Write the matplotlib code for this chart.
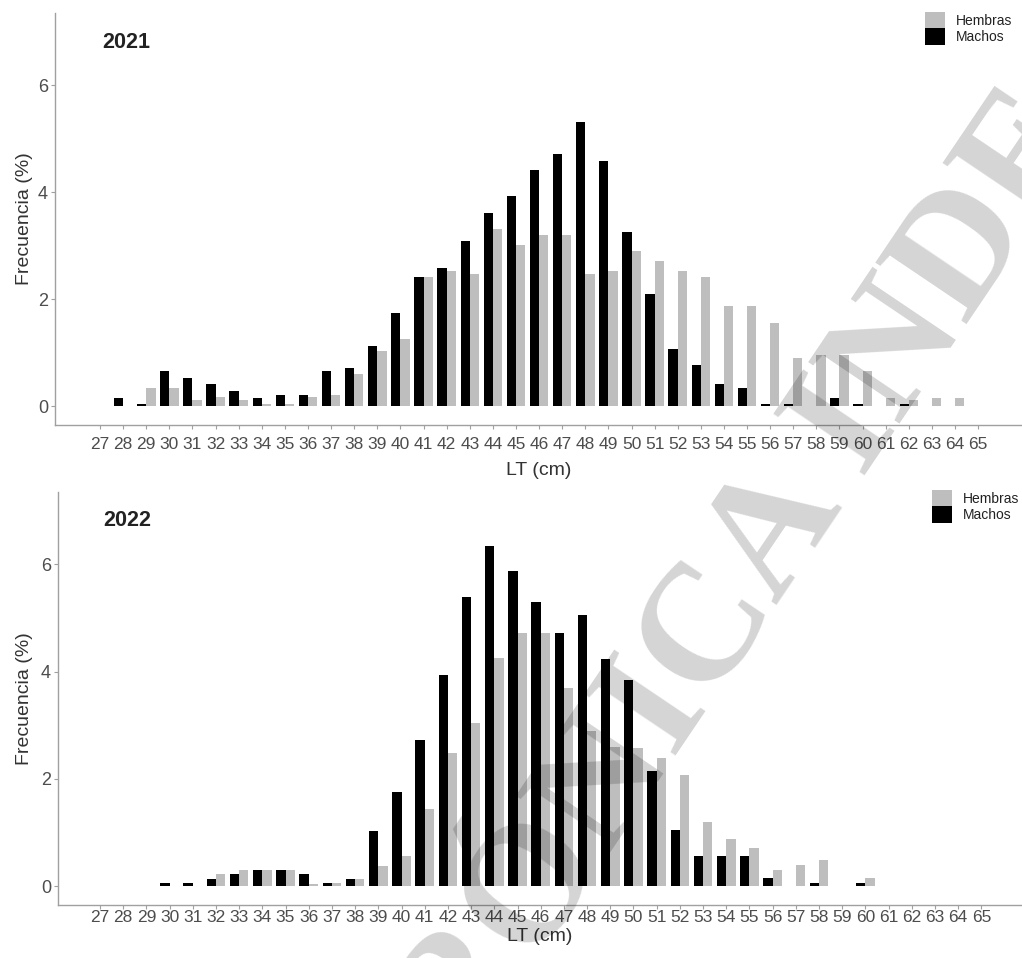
"""
Distribución de frecuencias de tallas (LT) por sexo, campañas 2021 y 2022.
Dos paneles de barras agrupadas: Hembras (gris) y Machos (negro).
"""
import matplotlib
matplotlib.use("Agg")
import matplotlib.pyplot as plt
from matplotlib.patches import Patch
import numpy as np

plt.rcParams["font.family"] = ["Liberation Sans", "DejaVu Sans"]

# clases de talla (cm)
LT = np.arange(27, 66)
TICK_LABELS = [str(v) for v in LT]

# frecuencias (%) por clase de talla, 27..65 cm
HEMBRAS_2021 = [0, 0, 0.35, 0.35, 0.11, 0.18, 0.11, 0.05, 0.05, 0.18,
                0.22, 0.60, 1.03, 1.26, 2.41, 2.53, 2.48, 3.32, 3.02, 3.20,
                3.20, 2.48, 2.53, 2.90, 2.71, 2.53, 2.41, 1.87, 1.87, 1.56,
                0.90, 0.96, 0.96, 0.65, 0.16, 0.11, 0.16, 0.16, 0]
MACHOS_2021 = [0, 0.16, 0.05, 0.65, 0.52, 0.41, 0.28, 0.16, 0.22, 0.22,
               0.65, 0.71, 1.13, 1.74, 2.41, 2.58, 3.08, 3.62, 3.93, 4.41,
               4.71, 5.32, 4.59, 3.26, 2.10, 1.07, 0.77, 0.41, 0.35, 0.05,
               0.05, 0, 0.16, 0.05, 0, 0.05, 0, 0, 0]

HEMBRAS_2022 = [0, 0, 0, 0, 0, 0.23, 0.30, 0.30, 0.30, 0.04,
                0.06, 0.14, 0.38, 0.56, 1.44, 2.48, 3.05, 4.25, 4.72, 4.72,
                3.69, 2.90, 2.60, 2.57, 2.40, 2.08, 1.20, 0.88, 0.72, 0.31,
                0.39, 0.48, 0, 0.16, 0, 0, 0, 0, 0]
MACHOS_2022 = [0, 0, 0, 0.06, 0.06, 0.14, 0.23, 0.30, 0.30, 0.23,
               0.06, 0.14, 1.03, 1.75, 2.72, 3.94, 5.39, 6.35, 5.87, 5.30,
               4.72, 5.05, 4.24, 3.84, 2.15, 1.04, 0.56, 0.56, 0.56, 0.16,
               0, 0.06, 0, 0.06, 0, 0, 0, 0, 0]

GRIS = "#bebebe"
NEGRO = "#000000"
EJE = "#a0a0a0"
TEXTO = "#4d4d4d"
TITULO = "#333333"
BAR_W = 0.4

W, H = 1022, 958


def px_rect(left, top, right, bottom):
    """Convierte un rectángulo en píxeles a coordenadas de figura."""
    return [left / W, 1 - bottom / H, (right - left) / W, (bottom - top) / H]


def panel(fig, rect, year, hembras, machos, xlim, tick_pad,
          xlabel_y, ylabel_x, year_px, legend_px):
    ax = fig.add_axes(px_rect(*rect))
    ax.bar(LT + BAR_W / 2, hembras, width=BAR_W, color=GRIS, linewidth=0)
    ax.bar(LT - BAR_W / 2, machos, width=BAR_W, color=NEGRO, linewidth=0)

    ax.set_xlim(*xlim)
    ax.set_ylim(-0.35, 7.35)
    ax.set_xticks(LT)
    ax.set_xticklabels(TICK_LABELS)
    ax.set_yticks([0, 2, 4, 6])

    for s in ("top", "right"):
        ax.spines[s].set_visible(False)
    for s in ("left", "bottom"):
        ax.spines[s].set_color(EJE)
        ax.spines[s].set_linewidth(1.0)

    ax.tick_params(axis="x", length=3, width=0.8, color=EJE, pad=tick_pad,
                   labelsize=12.5, labelcolor=TEXTO)
    ax.tick_params(axis="y", length=3, width=0.8, color=EJE, pad=2,
                   labelsize=13, labelcolor=TEXTO)

    ax.set_xlabel("LT (cm)", fontsize=14, color=TITULO)
    ax.set_ylabel("Frecuencia (%)", fontsize=14, color=TITULO)
    ax.xaxis.set_label_coords(0.5, xlabel_y)
    ax.yaxis.set_label_coords(ylabel_x, 0.5)

    fig.text(year_px[0] / W, 1 - year_px[1] / H, year, ha="left", va="center",
             fontsize=15.5, fontweight="bold", color="#222222")

    handles = [Patch(facecolor=GRIS), Patch(facecolor=NEGRO)]
    fig.legend(handles, ["Hembras", "Machos"], loc="upper left",
               bbox_to_anchor=(legend_px[0] / W, 1 - legend_px[1] / H),
               frameon=False, fontsize=10, handlelength=1.44,
               handleheight=1.44, labelspacing=0, handletextpad=0.8,
               borderpad=0, borderaxespad=0, labelcolor="#222222")
    return ax


fig = plt.figure(figsize=(W / 100, H / 100), dpi=100)

panel(fig, (55, 13, W, 425), "2021", HEMBRAS_2021, MACHOS_2021,
      xlim=(25.05, 66.9), tick_pad=5.5, xlabel_y=-0.09, ylabel_x=-0.023,
      year_px=(102, 43), legend_px=(925, 12))

panel(fig, (58, 492, W, 905), "2022", HEMBRAS_2022, MACHOS_2022,
      xlim=(25.19, 66.75), tick_pad=0.5, xlabel_y=-0.056, ylabel_x=-0.026,
      year_px=(103, 520), legend_px=(932, 490))

# marca de agua del documento
fig.text(590 / W, 1 - 812 / H, "ELECTRÓNICA INDE", rotation=56,
         rotation_mode="anchor", ha="center", va="center",
         fontsize=120, fontweight="bold", family="Liberation Serif",
         color="black", alpha=0.17, zorder=10)

fig.savefig("out.png", dpi=100)
